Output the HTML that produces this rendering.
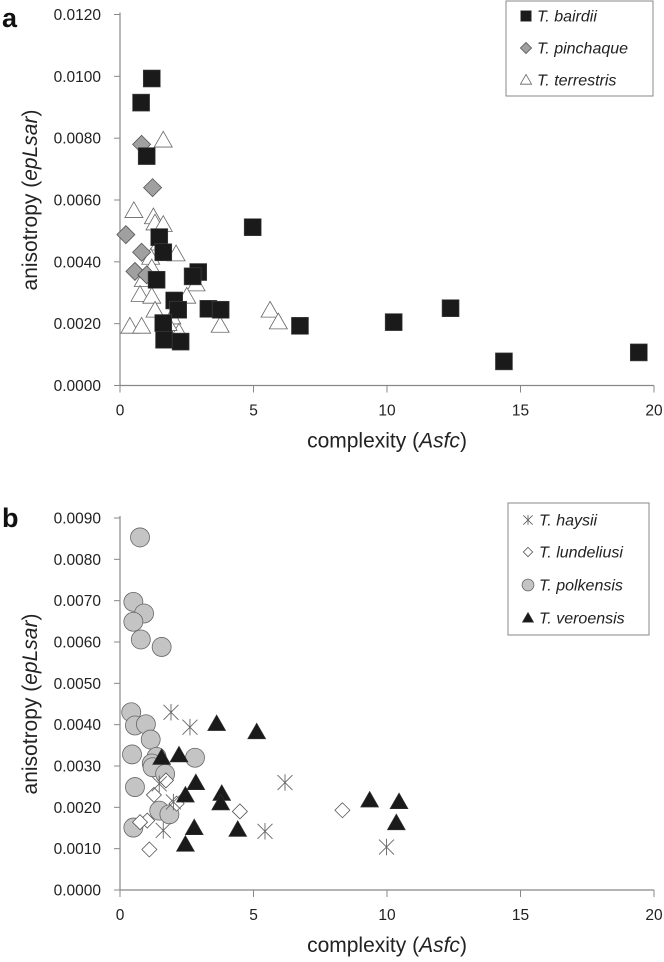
<!DOCTYPE html>
<html><head><meta charset="utf-8"><style>
html,body{margin:0;padding:0;background:#fff;}
svg{display:block;font-family:"Liberation Sans",sans-serif;}
</style></head><body>
<svg id="fig" width="664" height="962" viewBox="0 0 664 962"></svg>
<script>
// ---- data panel a ----
const xTicks = [0, 5, 10, 15, 20];
const yTicksA = [0, 0.002, 0.004, 0.006, 0.008, 0.010, 0.012];
const yTicksB = [0, 0.001, 0.002, 0.003, 0.004, 0.005, 0.006, 0.007, 0.008, 0.009];
const bairdiiX = [1.19,0.79,1.0,4.97,1.47,1.62,1.37,2.93,2.72,2.03,2.18,3.31,3.77,1.62,1.65,2.27,6.74,12.38,14.38,19.43,10.25];
const bairdiiY = [0.00993,0.00915,0.00742,0.00512,0.0048,0.00431,0.00342,0.00367,0.00353,0.00275,0.00245,0.00248,0.00245,0.00202,0.00148,0.00142,0.00193,0.0025,0.00078,0.00107,0.00205];
const pinchaqueX = [0.81,1.22,0.22,0.81,0.56,1.0];
const pinchaqueY = [0.0078,0.0064,0.00488,0.00431,0.00369,0.00358];
const terrestrisX = [1.62,0.52,1.25,1.31,1.62,1.47,2.10,1.15,1.19,0.87,2.85,0.75,1.19,2.5,1.31,1.94,0.37,0.81,3.75,2.21,5.62,5.93,1.8];
const terrestrisY = [0.00793,0.00565,0.00545,0.00525,0.0052,0.0046,0.00425,0.00414,0.0038,0.00342,0.00328,0.00294,0.00288,0.00288,0.00243,0.00221,0.00191,0.00191,0.00194,0.00172,0.00243,0.00205,0.0020];
// ---- data panel b ----
const haysiiX = [1.91,2.62,6.18,5.43,1.62,2.0,1.47,9.98];
const haysiiY = [0.0043,0.00394,0.0026,0.00142,0.00144,0.00213,0.00257,0.00104];
const lundeliusiX = [1.72,1.27,1.02,0.75,1.1,2.12,4.49,8.33];
const lundeliusiY = [0.00265,0.0023,0.00168,0.00164,0.00098,0.00209,0.0019,0.00193];
const polkensisX = [0.75,0.5,0.9,0.5,0.78,1.56,0.42,0.56,0.97,1.15,0.45,1.37,2.81,1.19,1.22,1.69,0.56,1.47,1.85,0.5];
const polkensisY = [0.00853,0.00697,0.00669,0.00649,0.00606,0.00588,0.0043,0.00398,0.00401,0.00364,0.00328,0.00322,0.0032,0.00306,0.00297,0.00281,0.00249,0.00192,0.00183,0.00151];
const veroensisX = [3.62,5.12,1.56,2.21,2.84,2.45,3.81,3.77,2.78,4.41,2.45,9.35,10.45,10.35];
const veroensisY = [0.00402,0.00382,0.0032,0.00326,0.00259,0.00229,0.00233,0.0021,0.0015,0.00146,0.0011,0.00217,0.00213,0.00162];

const NS = "http://www.w3.org/2000/svg";
const svg = document.getElementById('fig');
function mk(tag, attrs, parent){
  const e = document.createElementNS(NS, tag);
  for (const k in attrs) e.setAttribute(k, attrs[k]);
  (parent||svg).appendChild(e);
  return e;
}
const X0 = 120, X1 = 654;
function sx(v){ return X0 + (X1 - X0) * v / 20; }

function marker(kind, x, y, g, s){
  s = s || 1;
  let e;
  if (kind === 'square') {
    const h = 8.5*s;
    e = mk('rect', {x:x-h, y:y-h, width:2*h, height:2*h, fill:'#1a1a1a', stroke:'#444', 'stroke-width':0.6}, g);
  } else if (kind === 'diamond') {
    const h = 9*s;
    e = mk('polygon', {points:`${x},${y-h} ${x+h},${y} ${x},${y+h} ${x-h},${y}`, fill:'#a0a0a0', stroke:'#555', 'stroke-width':0.8}, g);
  } else if (kind === 'otri') {
    const h = 9*s;
    e = mk('polygon', {points:`${x},${y-h} ${x+h},${y+h*0.75} ${x-h},${y+h*0.75}`, fill:'#fff', stroke:'#666', 'stroke-width':0.8}, g);
  } else if (kind === 'ftri') {
    const h = 9*s;
    e = mk('polygon', {points:`${x},${y-h} ${x+h},${y+h*0.75} ${x-h},${y+h*0.75}`, fill:'#1a1a1a', stroke:'#333', 'stroke-width':0.6}, g);
  } else if (kind === 'odiam') {
    const h = 7.5*s;
    e = mk('polygon', {points:`${x},${y-h} ${x+h},${y} ${x},${y+h} ${x-h},${y}`, fill:'#fff', stroke:'#555', 'stroke-width':0.8}, g);
  } else if (kind === 'circle') {
    e = mk('circle', {cx:x, cy:y, r:9.5*s, fill:'#c4c4c4', stroke:'#666', 'stroke-width':0.8}, g);
  } else if (kind === 'star') {
    const h = 7.5*s;
    e = mk('path', {d:`M${x-h},${y-h}L${x+h},${y+h}M${x-h},${y+h}L${x+h},${y-h}M${x},${y-h*1.1}L${x},${y+h*1.1}`, stroke:'#666', 'stroke-width':0.9, fill:'none'}, g);
  }
  return e;
}

function panel(opts){
  const {Y0, Ytop, ticks, ymax, letter, letterY, prefix} = opts;
  function sy(v){ return Y0 - (Y0 - Ytop) * v / ymax; }
  const g = mk('g', {});
  
  
  // axes
  const ya = mk('line', {x1:X0, y1:Ytop-2, x2:X0, y2:Y0, stroke:'#888', 'stroke-width':1.2}, g);
  
  
  const xa = mk('line', {x1:X0, y1:Y0, x2:X1, y2:Y0, stroke:'#888', 'stroke-width':1.2}, g);
  
  
  ticks.forEach(t => {
    const y = sy(t);
    mk('line', {x1:X0-6, y1:y, x2:X0, y2:y, stroke:'#888', 'stroke-width':1}, g);
    const tx = mk('text', {x:101, y:y+5.5, 'text-anchor':'end', 'font-size':15.5, fill:'#222'}, g);
    tx.textContent = t.toFixed(4);
    
    
  });
  xTicks.forEach(t => {
    const x = sx(t);
    mk('line', {x1:x, y1:Y0, x2:x, y2:Y0+7, stroke:'#888', 'stroke-width':1}, g);
    const tx = mk('text', {x:x, y:Y0+30, 'text-anchor':'middle', 'font-size':15.5, fill:'#222'}, g);
    tx.textContent = t;
    
    
  });
  const xt = mk('text', {x:387, y:Y0+62, 'text-anchor':'middle', 'font-size':21, fill:'#222'}, g);
  xt.innerHTML = 'complexity (<tspan font-style="italic">Asfc</tspan>)';
  
  
  const cy = (Y0 + Ytop) / 2;
  const yt = mk('text', {x:0, y:0, 'text-anchor':'middle', 'font-size':21, fill:'#222', transform:`translate(37,${cy}) rotate(-90)`}, g);
  yt.innerHTML = 'anisotropy (<tspan font-style="italic">epLsar</tspan>)';
  
  
  const lt = mk('text', {x:2, y:letterY, 'font-size':27, 'font-weight':'bold', fill:'#111'}, g);
  lt.textContent = letter;
  
  
  return {g, sy};
}

function series(p, kind, xs, ys, name){
  const g = mk('g', {}, p.g);
  
  
  xs.forEach((v, i) => {
    const e = marker(kind, sx(v), p.sy(ys[i]), g);
    
    
  });
}

function legend(x, y, w, h, rowY, entries, name){
  const g = mk('g', {});
  
  
  mk('rect', {x:x, y:y, width:w, height:h, fill:'#fff', stroke:'#888', 'stroke-width':1}, g);
  entries.forEach((en, i) => {
    const yy = rowY[i];
    const m = marker(en[0], x + 20, yy, g, 0.62);
    
    
    const t = mk('text', {x:x + 31, y:yy + 5.5, 'font-size':16, 'font-style':'italic', fill:'#222'}, g);
    t.textContent = en[1];
    
    
  });
}

const pa = panel({Y0:385.5, Ytop:14.5, ticks:yTicksA, ymax:0.012, letter:'a', letterY:27, prefix:'panel-a'});
series(pa, 'otri', terrestrisX, terrestrisY, 't-terrestris');
series(pa, 'diamond', pinchaqueX, pinchaqueY, 't-pinchaque');
series(pa, 'square', bairdiiX, bairdiiY, 't-bairdii');
legend(506, 1, 147, 95, [16, 48, 80], [['square','T. bairdii'],['diamond','T. pinchaque'],['otri','T. terrestris']], 'legend-a');

const pb = panel({Y0:890, Ytop:518, ticks:yTicksB, ymax:0.009, letter:'b', letterY:527, prefix:'panel-b'});
series(pb, 'circle', polkensisX, polkensisY, 't-polkensis');
series(pb, 'odiam', lundeliusiX, lundeliusiY, 't-lundeliusi');
series(pb, 'star', haysiiX, haysiiY, 't-haysii');
series(pb, 'ftri', veroensisX, veroensisY, 't-veroensis');
legend(508, 503, 141, 132, [520, 552, 585, 618], [['star','T. haysii'],['odiam','T. lundeliusi'],['circle','T. polkensis'],['ftri','T. veroensis']], 'legend-b');
</script>
</body></html>
